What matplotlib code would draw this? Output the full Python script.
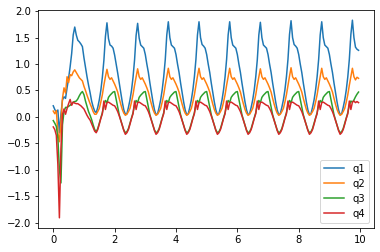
import numpy as np
import matplotlib
matplotlib.use('Agg')
import matplotlib.pyplot as plt

# time axis, 0.05 s steps
t = np.linspace(0, 9.95, 200)

# values, one row per second
q1 = [
    0.21, 0.14, 0.09, 0.13, -0.30, 0.05, 0.32, 0.38, 0.35, 0.55, 0.73, 0.95, 1.20, 1.55, 1.70, 1.55, 1.45, 1.42, 1.38, 1.33,
    1.12, 0.94, 0.76, 0.60, 0.46, 0.30, 0.19, 0.11, 0.08, 0.18, 0.32, 0.50, 0.75, 1.07, 1.52, 1.78, 1.48, 1.36, 1.34, 1.30,
    1.17, 1.00, 0.83, 0.64, 0.46, 0.28, 0.13, 0.05, 0.06, 0.18, 0.32, 0.50, 0.75, 1.08, 1.54, 1.77, 1.49, 1.36, 1.33, 1.30,
    1.18, 1.00, 0.84, 0.64, 0.46, 0.28, 0.13, 0.04, 0.06, 0.18, 0.32, 0.51, 0.76, 1.08, 1.55, 1.80, 1.50, 1.36, 1.33, 1.30,
    1.18, 1.00, 0.84, 0.64, 0.46, 0.28, 0.13, 0.04, 0.06, 0.18, 0.32, 0.51, 0.76, 1.09, 1.55, 1.80, 1.50, 1.37, 1.34, 1.30,
    1.18, 1.00, 0.84, 0.64, 0.46, 0.28, 0.13, 0.04, 0.06, 0.18, 0.32, 0.51, 0.76, 1.09, 1.55, 1.80, 1.50, 1.36, 1.33, 1.30,
    1.18, 1.00, 0.84, 0.64, 0.46, 0.28, 0.13, 0.04, 0.06, 0.18, 0.32, 0.51, 0.76, 1.08, 1.55, 1.79, 1.50, 1.36, 1.33, 1.30,
    1.18, 1.00, 0.84, 0.64, 0.46, 0.28, 0.13, 0.04, 0.06, 0.18, 0.32, 0.51, 0.76, 1.09, 1.56, 1.82, 1.50, 1.37, 1.34, 1.30,
    1.18, 1.00, 0.84, 0.64, 0.46, 0.28, 0.13, 0.04, 0.06, 0.18, 0.32, 0.51, 0.76, 1.09, 1.55, 1.80, 1.50, 1.36, 1.33, 1.30,
    1.18, 1.00, 0.84, 0.64, 0.46, 0.28, 0.13, 0.04, 0.06, 0.18, 0.32, 0.51, 0.76, 1.09, 1.56, 1.83, 1.50, 1.32, 1.28, 1.26,
]
q2 = [
    0.11, 0.06, 0.12, -0.30, -0.47, -0.10, 0.35, 0.55, 0.45, 0.76, 0.65, 0.80, 0.78, 0.85, 0.89, 0.84, 0.79, 0.74, 0.71, 0.68,
    0.58, 0.50, 0.41, 0.33, 0.25, 0.18, 0.10, 0.05, 0.05, 0.10, 0.16, 0.28, 0.42, 0.60, 0.76, 0.90, 0.76, 0.71, 0.74, 0.68,
    0.62, 0.55, 0.47, 0.35, 0.24, 0.14, 0.07, 0.03, 0.05, 0.10, 0.16, 0.28, 0.42, 0.60, 0.76, 0.91, 0.76, 0.71, 0.74, 0.68,
    0.62, 0.55, 0.47, 0.35, 0.24, 0.14, 0.07, 0.03, 0.05, 0.10, 0.16, 0.28, 0.42, 0.60, 0.76, 0.92, 0.76, 0.71, 0.74, 0.68,
    0.62, 0.55, 0.47, 0.35, 0.24, 0.14, 0.07, 0.03, 0.05, 0.10, 0.16, 0.28, 0.42, 0.60, 0.77, 0.92, 0.76, 0.71, 0.74, 0.68,
    0.62, 0.55, 0.47, 0.35, 0.24, 0.14, 0.07, 0.03, 0.05, 0.10, 0.16, 0.28, 0.42, 0.60, 0.76, 0.92, 0.76, 0.71, 0.74, 0.68,
    0.62, 0.55, 0.47, 0.35, 0.24, 0.14, 0.07, 0.03, 0.05, 0.10, 0.16, 0.28, 0.42, 0.60, 0.76, 0.91, 0.76, 0.71, 0.74, 0.68,
    0.62, 0.55, 0.47, 0.35, 0.24, 0.14, 0.07, 0.03, 0.05, 0.10, 0.16, 0.28, 0.42, 0.60, 0.77, 0.93, 0.76, 0.71, 0.74, 0.68,
    0.62, 0.55, 0.47, 0.35, 0.24, 0.14, 0.07, 0.03, 0.05, 0.10, 0.16, 0.28, 0.42, 0.60, 0.76, 0.92, 0.76, 0.71, 0.74, 0.68,
    0.62, 0.55, 0.47, 0.35, 0.24, 0.14, 0.07, 0.03, 0.05, 0.10, 0.16, 0.28, 0.42, 0.60, 0.76, 0.92, 0.76, 0.70, 0.75, 0.73,
]
q3 = [
    -0.07, -0.12, -0.18, -0.40, -1.00, -1.25, -0.15, 0.10, 0.18, 0.18, 0.20, 0.22, 0.25, 0.28, 0.29, 0.30, 0.34, 0.40, 0.45, 0.48,
    0.42, 0.30, 0.20, 0.10, 0.03, -0.05, -0.15, -0.24, -0.28, -0.22, -0.12, -0.02, 0.08, 0.22, 0.31, 0.27, 0.37, 0.41, 0.44, 0.47,
    0.48, 0.33, 0.17, 0.04, -0.06, -0.16, -0.25, -0.30, -0.28, -0.22, -0.12, -0.02, 0.08, 0.22, 0.31, 0.27, 0.37, 0.41, 0.44, 0.47,
    0.48, 0.33, 0.17, 0.04, -0.06, -0.16, -0.25, -0.30, -0.28, -0.22, -0.12, -0.02, 0.08, 0.22, 0.31, 0.27, 0.37, 0.41, 0.44, 0.47,
    0.48, 0.33, 0.17, 0.04, -0.06, -0.16, -0.25, -0.30, -0.28, -0.22, -0.12, -0.02, 0.08, 0.22, 0.31, 0.27, 0.37, 0.41, 0.44, 0.47,
    0.48, 0.33, 0.17, 0.04, -0.06, -0.16, -0.25, -0.30, -0.28, -0.22, -0.12, -0.02, 0.08, 0.22, 0.31, 0.27, 0.37, 0.41, 0.44, 0.47,
    0.48, 0.33, 0.17, 0.04, -0.06, -0.16, -0.25, -0.30, -0.28, -0.22, -0.12, -0.02, 0.08, 0.22, 0.31, 0.27, 0.37, 0.41, 0.44, 0.47,
    0.48, 0.33, 0.17, 0.04, -0.06, -0.16, -0.25, -0.30, -0.28, -0.22, -0.12, -0.02, 0.08, 0.22, 0.31, 0.27, 0.37, 0.41, 0.44, 0.47,
    0.48, 0.33, 0.17, 0.04, -0.06, -0.16, -0.25, -0.30, -0.28, -0.22, -0.12, -0.02, 0.08, 0.22, 0.31, 0.27, 0.37, 0.41, 0.44, 0.47,
    0.48, 0.33, 0.17, 0.04, -0.06, -0.16, -0.25, -0.30, -0.28, -0.22, -0.12, -0.02, 0.08, 0.22, 0.30, 0.28, 0.32, 0.38, 0.43, 0.47,
]
q4 = [
    -0.19, -0.24, -0.35, -0.90, -1.91, -0.60, 0.05, 0.15, 0.05, 0.16, 0.25, 0.33, 0.22, 0.28, 0.26, 0.25, 0.25, 0.23, 0.21, 0.18,
    0.15, 0.09, 0.03, -0.02, -0.06, -0.13, -0.20, -0.27, -0.30, -0.24, -0.14, -0.03, 0.06, 0.30, 0.14, 0.27, 0.28, 0.26, 0.24, 0.22,
    0.21, 0.16, 0.10, 0.02, -0.07, -0.16, -0.26, -0.33, -0.30, -0.24, -0.14, -0.03, 0.06, 0.30, 0.14, 0.27, 0.28, 0.26, 0.24, 0.22,
    0.21, 0.16, 0.10, 0.02, -0.07, -0.16, -0.26, -0.33, -0.30, -0.24, -0.14, -0.03, 0.06, 0.30, 0.14, 0.27, 0.28, 0.26, 0.24, 0.22,
    0.21, 0.16, 0.10, 0.02, -0.07, -0.16, -0.26, -0.33, -0.30, -0.24, -0.14, -0.03, 0.06, 0.30, 0.14, 0.27, 0.28, 0.26, 0.24, 0.22,
    0.21, 0.16, 0.10, 0.02, -0.07, -0.16, -0.26, -0.33, -0.30, -0.24, -0.14, -0.03, 0.06, 0.30, 0.14, 0.27, 0.28, 0.26, 0.24, 0.22,
    0.21, 0.16, 0.10, 0.02, -0.07, -0.16, -0.26, -0.33, -0.30, -0.24, -0.14, -0.03, 0.06, 0.30, 0.14, 0.27, 0.28, 0.26, 0.24, 0.22,
    0.21, 0.16, 0.10, 0.02, -0.07, -0.16, -0.26, -0.33, -0.30, -0.24, -0.14, -0.03, 0.06, 0.30, 0.14, 0.27, 0.28, 0.26, 0.24, 0.22,
    0.21, 0.16, 0.10, 0.02, -0.07, -0.16, -0.26, -0.33, -0.30, -0.24, -0.14, -0.03, 0.06, 0.30, 0.14, 0.27, 0.28, 0.26, 0.24, 0.22,
    0.21, 0.16, 0.10, 0.02, -0.07, -0.16, -0.26, -0.33, -0.30, -0.24, -0.14, -0.03, 0.06, 0.30, 0.14, 0.28, 0.30, 0.27, 0.29, 0.27,
]
labels = ['q1', 'q2', 'q3', 'q4']

fig = plt.figure(figsize=(380 / 72, 252 / 72), dpi=72)
ax = fig.add_axes([0.1, 0.0964, 0.8837, 0.8627])

for q, lab in zip([q1, q2, q3, q4], labels):
    ax.plot(t, q, label=lab)

ax.legend(loc='lower right')
fig.savefig('out.png', dpi=72)
